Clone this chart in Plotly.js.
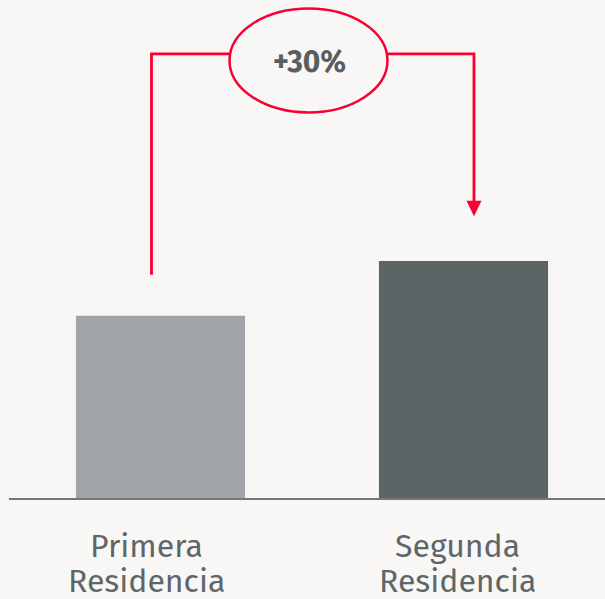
<!DOCTYPE html>
<html>
<head>
<meta charset="utf-8">
<script src="https://cdn.plot.ly/plotly-3.0.1.min.js"></script>
<style>
html,body{margin:0;padding:0;background:#f8f7f6;}
#chart{width:605px;height:599px;}
</style>
</head>
<body>
<div id="chart"></div>
<script>
var categories = ["Primera Residencia", "Segunda Residencia"];
var values = [100, 130];
var barColors = ["#a0a3a7", "#5d6466"];
var changeLabel = "+30%";

var red = "#f70032";
var pxPerUnit = 1.825;
function v(px) { return (498.5 - px) / pxPerUnit; }
function xd(px) { return (px - 160.5) / 303; }
function py(px) { return (498.5 - px) / 498.5; }

var topY = v(54);
var leftX = xd(151.5), rightX = xd(474);
var shapes = [
  {type:"path", xref:"x", yref:"y",
   path:"M"+leftX+","+(values[0]+22.5)+" L"+leftX+","+topY+" L"+xd(230)+","+topY,
   line:{color:red,width:2.8}},
  {type:"path", xref:"x", yref:"y",
   path:"M"+xd(387)+","+topY+" L"+rightX+","+topY+" L"+rightX+","+v(203),
   line:{color:red,width:2.8}},
  {type:"path", xref:"x", yref:"y",
   path:"M"+xd(466.5)+","+v(201)+" L"+xd(481.5)+","+v(201)+" L"+rightX+","+v(216.5)+" Z",
   fillcolor:red, line:{color:red,width:0}},
  {type:"circle", xref:"x", yref:"y",
   x0:xd(229.5), x1:xd(387.5), y0:v(112.5), y1:v(8.5),
   line:{color:red,width:2.5}, fillcolor:"rgba(0,0,0,0)"}
];

var data = [{
  type:"bar",
  x:[0,1],
  y:values,
  width:0.558,
  marker:{color:barColors},
  hoverinfo:"none"
}];

var labelFont = {family:"Fira Sans, Noto Sans, sans-serif", size:32, weight:400, color:"#5f6668"};
var labelShift = [-14, -6];
var annotations = [{
  x:xd(309), y:v(62), xref:"x", yref:"y",
  text:changeLabel, showarrow:false,
  font:{family:"Fira Sans, Lato, Noto Sans, sans-serif", size:30, weight:700, color:"#5a5e61"}
}];
categories.forEach(function(c, i){
  var parts = c.split(" ");
  parts.forEach(function(p, j){
    annotations.push({
      x:i, y:py(547 + j*35), xref:"x", yref:"paper",
      xshift:labelShift[i],
      text:p, showarrow:false, yanchor:"middle",
      font:labelFont
    });
  });
});

var layout = {
  width:605, height:599,
  margin:{l:9, r:0, t:0, b:100.5},
  paper_bgcolor:"#f8f7f6",
  plot_bgcolor:"#f8f7f6",
  showlegend:false,
  xaxis:{
    range:[-0.5, 1.467],
    tickvals:[0,1],
    showgrid:false, zeroline:false,
    showline:true, linecolor:"#777777", linewidth:2,
    showticklabels:false, ticks:"",
    fixedrange:true
  },
  yaxis:{
    range:[0, v(0)],
    showgrid:false, zeroline:false, showline:false,
    showticklabels:false, ticks:"",
    fixedrange:true
  },
  shapes:shapes,
  annotations:annotations
};

Plotly.newPlot("chart", data, layout, {staticPlot:true, displayModeBar:false});
</script>
</body>
</html>
